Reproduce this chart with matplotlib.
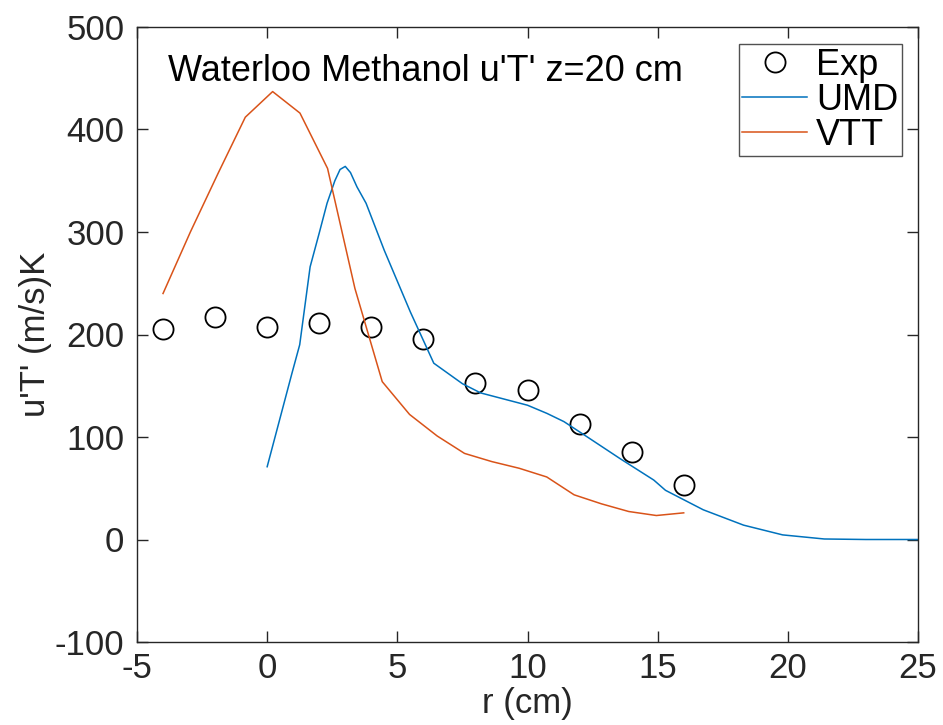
import matplotlib
matplotlib.use("Agg")
import matplotlib.pyplot as plt

plt.rcParams['font.family'] = ['Liberation Sans', 'DejaVu Sans']
plt.rcParams['axes.unicode_minus'] = False

# Experimental data
exp_r = [-4, -2, 0, 2, 4, 6, 8, 10, 12, 14, 16]
exp_v = [205, 217, 207, 211, 207, 196, 153, 146, 113, 85, 53]

# UMD simulation
umd_r = [0, 0.95, 1.25, 1.65, 2.0, 2.3, 2.6, 2.8, 3.0, 3.2, 3.45, 3.8, 4.5,
         5.5, 6.4, 7.5, 8.2, 10.0, 10.75, 11.4, 12.3, 13.55, 14.85, 15.3,
         16.75, 18.3, 19.8, 21.4, 23.0, 25.0]
umd_v = [71, 162, 190, 266, 299, 328, 350, 361, 364, 358, 344, 328, 282,
         222, 172, 152, 143, 131, 123, 115, 100, 79, 58, 48,
         29, 14, 4.5, 0.5, 0, 0]

# VTT simulation
vtt_r = [-4, -2.95, -1.89, -0.84, 0.21, 1.26, 2.32, 3.37, 4.42, 5.47, 6.53,
         7.58, 8.63, 9.68, 10.74, 11.79, 12.84, 13.89, 14.95, 16]
vtt_v = [240, 300, 357, 412, 437, 416, 362, 245, 154, 122, 101,
         84, 76, 69.5, 61, 43.6, 34.8, 27.3, 23.4, 26]

xticks = [-5, 0, 5, 10, 15, 20, 25]
yticks = [-100, 0, 100, 200, 300, 400, 500]

fig = plt.figure(figsize=(9.43, 7.25), dpi=100)
ax = fig.add_axes([137/943, 1 - 642/725, (918 - 137)/943, (642 - 27)/725])

ax.plot(exp_r, exp_v, 'o', mfc='none', mec='black', ms=14.5, mew=1.3, label='Exp')
ax.plot(umd_r, umd_v, '-', color='#0072BD', lw=1.1, label='UMD')
ax.plot(vtt_r, vtt_v, '-', color='#D95319', lw=1.1, label='VTT')

ax.set_xlim(-5, 25)
ax.set_ylim(-100, 500)
ax.set_xticks(xticks)
ax.set_yticks(yticks)

gray = '#262626'
for s in ax.spines.values():
    s.set_color(gray)
    s.set_linewidth(1.0)
ax.tick_params(direction='in', length=8, width=1.0, colors=gray,
               labelsize=25, top=True, right=True)
ax.tick_params(axis='y', pad=9)
ax.tick_params(axis='x', pad=7)
for lbl in ax.get_xticklabels() + ax.get_yticklabels():
    lbl.set_color(gray)

ax.set_xlabel('r (cm)', fontsize=25, color=gray, labelpad=2)
ax.set_ylabel("u'T' (m/s)K", fontsize=25, color=gray, labelpad=2)

ax.text(0.04, 0.928, "Waterloo Methanol u'T' z=20 cm", transform=ax.transAxes,
        fontsize=26, color='black', ha='left', va='center')

leg = ax.legend(loc='upper right', bbox_to_anchor=(902/943, 1 - 44/725),
                bbox_transform=fig.transFigure, fontsize=26, frameon=True,
                fancybox=False, edgecolor=gray, handlelength=1.8,
                handletextpad=0.25, borderpad=0.1, labelspacing=0.0,
                borderaxespad=0)
leg.get_frame().set_linewidth(1.0)

fig.savefig('out.png', dpi=100)
